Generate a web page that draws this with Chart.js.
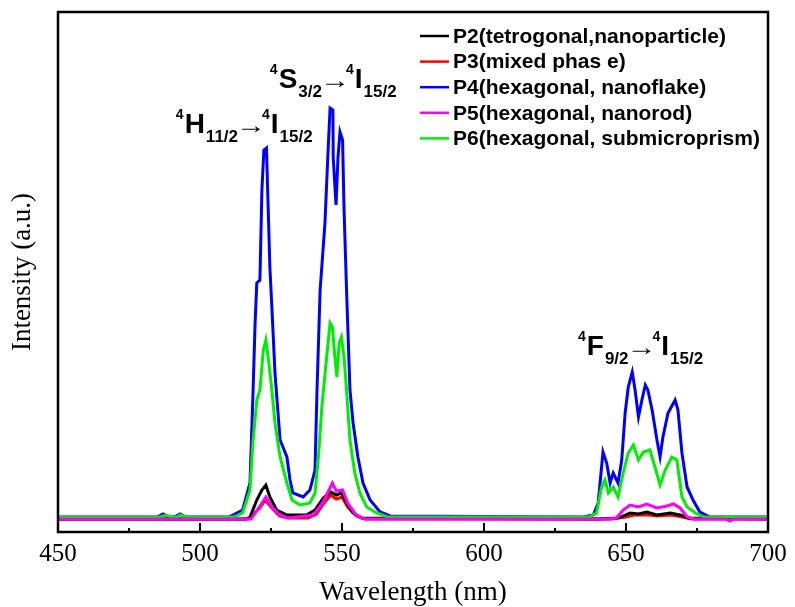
<!DOCTYPE html>
<html>
<head>
<meta charset="utf-8">
<script src="https://cdn.jsdelivr.net/npm/chart.js@4.4.1/dist/chart.umd.min.js"></script>
<style>
  body { margin: 0; background: #fff; }
  canvas { display: block; }
</style>
</head>
<body>
<canvas id="chart" width="795" height="607"></canvas>
<script>
// wavelength (nm) / intensity (a.u.)
const wlP2  = [450, 516, 517.6, 520, 521.8, 523.2, 524.6, 527, 530.6, 537.5, 540.5, 543.4, 546.1, 548, 549.8, 551.6, 553.9, 557, 640, 647, 649, 651.4, 654.4, 657.3, 660.9, 665.6, 669, 672, 700];
const intP2 = [0, 0, 2, 19, 29, 34, 22, 9, 4, 4, 9, 21, 27, 24, 26, 16, 6, 1, 0, 1, 3, 6, 5, 7, 4, 6, 4, 1, 0];

const wlP3  = [450, 517, 521, 523, 525, 528, 531, 538, 541, 543.4, 546, 548, 550, 552, 555, 558, 645, 650, 653, 658, 661, 666, 670, 673, 700];
const intP3 = [0, 0, 11, 19, 12, 3, 1, 1, 5, 15, 24, 20, 22, 12, 3, 0, 0, 2, 4, 4, 3, 4, 2, 0, 0];

const wlP4  = [450, 485, 487, 489, 491, 493, 495, 510, 511.6, 515, 517.6, 518.7, 519.4, 520, 521.1, 521.8, 522.5, 523.4, 524, 524.6, 525.3, 526.4, 528.2, 530.6, 531.7, 532.7, 536.3, 538.7, 540.5, 541.2, 542.3, 544, 545, 545.8, 546.8, 546.9, 547.9, 548.6, 549.3, 550.2, 550.7, 551.6, 552.8, 553.9, 555.6, 557.4, 559.9, 563.4, 567, 635, 638.5, 640.2, 641.9, 643.2, 644.4, 645.5, 647.2, 648.5, 649.7, 650.8, 652.2, 653.2, 654.4, 655.6, 656.8, 657.7, 659.2, 660.9, 662, 663, 664.8, 667.3, 668.3, 669.7, 671.5, 673.6, 676, 679.6, 700];
const intP4 = [2, 2, 5, 2, 2, 5, 2, 2, 4, 9, 36, 129, 196, 236, 239, 329, 369, 371, 312, 252, 212, 146, 79, 62, 39, 26, 22, 29, 49, 129, 229, 296, 362, 411, 409, 362, 314, 362, 387, 379, 312, 229, 129, 96, 62, 36, 19, 7, 3, 2, 4, 16, 67, 56, 36, 46, 36, 59, 106, 132, 147, 129, 102, 119, 134, 129, 109, 79, 62, 82, 106, 119, 109, 66, 32, 19, 7, 2, 2];

const wlP5  = [450, 518, 521.1, 523.2, 525.3, 528.2, 531, 540, 543.4, 546.6, 548, 550.2, 552, 555, 558, 644, 646.6, 649, 651.4, 654.4, 657.3, 660.9, 664.4, 666.7, 669.1, 671.5, 674, 685, 686.6, 688, 700];
const intP5 = [0, 0, 13, 22, 12, 4, 1, 4, 17, 36, 28, 29, 16, 4, 0, 0, 1, 9, 14, 12, 15, 11, 13, 15, 11, 2, 0, 0, -2, 0, 0];

const wlP6  = [450, 486, 488, 490, 492, 493, 495, 512, 515, 517.6, 518.7, 520, 521.1, 522.3, 523.2, 524, 525.3, 526.4, 528.2, 530.6, 532.4, 535.2, 538.7, 540.5, 541.7, 542.9, 544.6, 545.8, 546.6, 547.5, 548.2, 549, 549.8, 550.7, 551.6, 552.8, 554.5, 556.3, 558.7, 562.2, 566, 637, 639.6, 641.4, 642.6, 643.8, 645.5, 647.2, 649, 650.8, 652.6, 654.4, 656.1, 658.4, 660.2, 662, 663.8, 666.1, 667.9, 669.7, 671.5, 674.4, 677.4, 700];
const intP6 = [2, 2, 4, 2, 2, 4, 2, 2, 6, 29, 79, 119, 129, 169, 179, 162, 129, 96, 62, 36, 19, 14, 16, 26, 62, 112, 162, 196, 192, 162, 142, 176, 182, 162, 129, 79, 46, 26, 12, 6, 2, 2, 6, 32, 39, 26, 32, 22, 46, 66, 74, 59, 67, 69, 52, 34, 49, 62, 59, 22, 12, 6, 2, 2];

const seriesNames = [
  'P2(tetrogonal,nanoparticle)',
  'P3(mixed phas e)',
  'P4(hexagonal, nanoflake)',
  'P5(hexagonal, nanorod)',
  'P6(hexagonal, submicroprism)'
];
const seriesColors = ['#000000', '#ff0000', '#0000ff', '#ff00ff', '#00ee00'];
const drawOrder = [3, 4, 5, 1, 2];   // lower = drawn on top

const xTicks = [450, 500, 550, 600, 650, 700];

const wls = [wlP2, wlP3, wlP4, wlP5, wlP6];
const ints = [intP2, intP3, intP4, intP5, intP6];

function toPoints(xs, ys) {
  return xs.map((x, i) => ({ x: x, y: ys[i] }));
}

const sans = '"Liberation Sans", Arial, sans-serif';
const serif = '"Liberation Serif", "Times New Roman", serif';

function drawTerm(ctx, x, y, parts) {
  ctx.save();
  ctx.fillStyle = '#000';
  ctx.textAlign = 'left';
  ctx.textBaseline = 'alphabetic';
  parts.forEach(p => {
    let font, dy = 0;
    if (p[1] === 'sup') { font = 'bold 14px ' + sans; dy = -14; }
    else if (p[1] === 'sub') { font = 'bold 17px ' + sans; dy = 9; }
    else if (p[1] === 'arrow') { font = '24px ' + sans; dy = 0; }
    else { font = 'bold 28px ' + sans; }
    ctx.font = font;
    if (p[1] === 'arrow') {
      // stretched thin arrow, side bearings trimmed
      const sx = 1.25;
      x -= 3;
      ctx.save();
      ctx.scale(sx, 1);
      ctx.fillText(p[0], x / sx, y + dy);
      ctx.restore();
      x += ctx.measureText(p[0]).width * sx - 4;
    } else {
      ctx.fillText(p[0], x, y + dy);
      x += ctx.measureText(p[0]).width + 1;
    }
  });
  ctx.restore();
}

const extras = {
  id: 'extras',
  afterDatasetsDraw(chart) {
    const ctx = chart.ctx;
    const a = chart.chartArea;
    const xs = chart.scales.x, ys = chart.scales.y;

    // ticks pointing inward
    ctx.save();
    ctx.strokeStyle = '#000';
    ctx.lineWidth = 2;
    xs.ticks.forEach(t => {
      const px = xs.getPixelForValue(t.value);
      const len = t.value % 50 === 0 ? 9 : 4;
      ctx.beginPath();
      ctx.moveTo(px, a.bottom);
      ctx.lineTo(px, a.bottom - len);
      ctx.stroke();
    });
    // frame
    ctx.lineWidth = 2.5;
    ctx.strokeRect(a.left, a.top, a.right - a.left, a.bottom - a.top);
    ctx.restore();

    // legend
    ctx.save();
    chart.data.datasets.forEach((ds, i) => {
      const y = a.top + 24 + i * 25.6;
      ctx.strokeStyle = ds.borderColor;
      ctx.lineWidth = 2.5;
      ctx.beginPath();
      ctx.moveTo(420, y);
      ctx.lineTo(449, y);
      ctx.stroke();
      ctx.fillStyle = '#000';
      ctx.font = 'bold 21px ' + sans;
      ctx.textBaseline = 'middle';
      ctx.fillText(ds.label, 453, y + 1);
    });
    ctx.restore();

    // transition labels
    drawTerm(ctx, xs.getPixelForValue(491.5), ys.getPixelForValue(386),
      [['4', 'sup'], ['H', 'main'], ['11/2', 'sub'], ['\u2192', 'arrow'], ['4', 'sup'], ['I', 'main'], ['15/2', 'sub']]);
    drawTerm(ctx, xs.getPixelForValue(524.6), ys.getPixelForValue(431),
      [['4', 'sup'], ['S', 'main'], ['3/2', 'sub'], ['\u2192', 'arrow'], ['4', 'sup'], ['I', 'main'], ['15/2', 'sub']]);
    drawTerm(ctx, xs.getPixelForValue(633.1), ys.getPixelForValue(164),
      [['4', 'sup'], ['F', 'main'], ['9/2', 'sub'], ['\u2192', 'arrow'], ['4', 'sup'], ['I', 'main'], ['15/2', 'sub']]);
  }
};

const chart = new Chart(document.getElementById('chart'), {
  type: 'line',
  data: {
    datasets: seriesNames.map((name, i) => ({
      label: name,
      data: toPoints(wls[i], ints[i]),
      borderColor: seriesColors[i],
      borderWidth: 3,
      pointRadius: 0,
      tension: 0,
      fill: false,
      order: drawOrder[i]
    }))
  },
  options: {
    responsive: false,
    animation: false,
    layout: { padding: { top: 12, right: 27, left: 0, bottom: 0 } },
    plugins: { legend: { display: false }, tooltip: { enabled: false } },
    scales: {
      x: {
        type: 'linear',
        min: 450,
        max: 700,
        afterFit(scale) { scale.height = 75; },
        afterBuildTicks(scale) {
          const t = [];
          for (let v = 450; v <= 700; v += 25) t.push({ value: v });
          scale.ticks = t;
        },
        grid: { display: false, drawTicks: false },
        border: { display: false },
        ticks: {
          padding: 7,
          color: '#000',
          font: { family: serif, size: 25 },
          maxRotation: 0,
          autoSkip: false,
          callback: v => xTicks.includes(v) ? String(v) : ''
        },
        title: {
          display: true,
          text: 'Wavelength (nm)',
          color: '#000',
          font: { family: serif, size: 27 },
          padding: { top: 0, bottom: -2 }
        }
      },
      y: {
        min: -13,
        max: 507,
        afterFit(scale) { scale.width = 58; },
        grid: { display: false, drawTicks: false },
        border: { display: false },
        ticks: { display: false },
        title: {
          display: true,
          text: 'Intensity (a.u.)',
          color: '#000',
          font: { family: serif, size: 27 },
          padding: { top: 7, bottom: 0 }
        }
      }
    }
  },
  plugins: [extras]
});
</script>
</body>
</html>
